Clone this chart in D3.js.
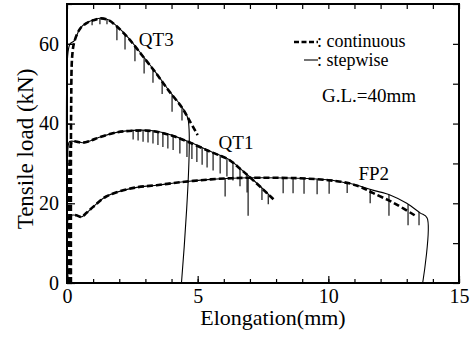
<!DOCTYPE html>
<html>
<head>
<meta charset="utf-8">
<script src="https://cdn.jsdelivr.net/npm/d3@7"></script>
<style>
  body { margin: 0; background: #fff; }
  svg text { font-family: "Liberation Serif", "Times New Roman", serif; fill: #000; }
</style>
</head>
<body>
<svg id="chart" width="475" height="338"></svg>
<script>
// [elongation mm, load kN]
const qt3Continuous = [[0.15,0],[0.16,45],[0.2,57],[0.28,60.5],[0.5,63.8],[0.75,65.2],[1.0,65.9],[1.3,66.4],[1.6,65.9],[1.9,64.4],[2.35,61.4],[2.9,56.9],[3.4,52.7],[3.9,48.2],[4.4,44.0],[4.7,40.6],[5.0,37.1]];
const qt3Stepwise = [[0.03,0],[0.04,58],[0.12,60],[0.28,60.8],[0.5,63.9],[0.75,65.3],[1.0,66.0],[1.3,66.5],[1.6,66.0],[1.9,64.5],[2.35,61.5],[2.9,57.0],[3.4,52.8],[3.9,48.3],[4.4,44.1],[4.63,41.2],[4.38,0]];
const qt1Continuous = [[0.12,0],[0.13,34],[0.2,35.5],[0.4,35.4],[0.6,35.2],[0.9,35.7],[1.3,36.7],[1.9,37.8],[2.5,38.2],[3.3,38.1],[4.0,37.0],[4.6,35.5],[5.5,32.9],[6.2,30.9],[6.6,28.8],[7.0,26.5],[7.5,23.5],[7.9,21.0]];
const qt1Stepwise = [[0.03,0],[0.04,34],[0.1,35.5],[0.4,35.4],[0.6,35.2],[0.9,35.7],[1.3,36.7],[1.9,37.8],[2.5,38.3],[3.3,38.2],[4.0,37.1],[4.6,35.6],[5.5,33.0],[6.2,31.0],[6.6,28.9],[7.0,26.6],[7.5,23.6],[7.85,21.3]];
const fp2Continuous = [[0.08,0],[0.09,16],[0.15,16.9],[0.35,17.0],[0.55,16.6],[0.75,17.6],[1.0,19.1],[1.5,21.7],[2.5,23.8],[3.5,24.6],[4.5,25.4],[5.5,26.0],[6.3,26.3],[7.0,26.4],[8.8,26.3],[10.0,25.8],[10.8,25.0],[11.3,23.9],[11.7,22.6],[12.5,20.1],[13.4,16.6]];
const fp2Stepwise = [[0.03,0],[0.04,16],[0.12,16.9],[0.35,17.0],[0.55,16.6],[0.75,17.6],[1.0,19.1],[1.5,21.7],[2.5,23.8],[3.5,24.6],[4.5,25.4],[5.5,26.0],[6.3,26.3],[7.0,26.4],[8.8,26.3],[10.0,25.9],[10.45,25.4],[11.08,24.6],[11.7,23.3],[12.36,22.1],[13.0,20.0],[13.51,17.6],[13.78,16.3],[13.61,0]];

// unloading drops on the stepwise curves: position (mm) and depth (kN)
const qt3SpikeX = [0.96,1.26,1.53,1.91,2.22,2.6,2.95,3.29,3.64,4.02,4.4];
const qt3SpikeDepth = [1.2,1.5,1.2,3.5,3.8,3.8,4.0,3.5,3.2,4.3,3.3];
const qt1SpikeX = [2.53,2.72,2.91,3.1,3.29,3.48,3.67,3.86,4.06,4.32,4.59,4.78,4.97,5.17,5.36,5.59,5.86,6.12,6.35,6.62,6.89,7.46,7.7];
const qt1SpikeDepth = [2.3,2.5,2.8,3.0,3.2,3.3,3.5,3.6,3.6,3.8,4.0,4.0,4.2,4.3,4.4,4.5,4.5,4.5,4.5,4.5,4.5,3.0,2.5];
const fp2SpikeX = [6.05,6.93,8.27,8.65,9.07,9.57,10.03,10.72,11.6,12.32,13.05,13.47];
const fp2SpikeDepth = [4.5,9.5,3.8,3.8,3.8,3.8,3.5,2.5,3.5,5.3,5.3,3.3];

const xTickLabels = [0, 5, 10, 15];
const yTickLabels = [0, 20, 40, 60];
const xMinorTicks = d3.range(0, 16);
const yMinorTicks = [0, 10, 20, 30, 40, 50, 60, 70];

const curveLabels = [
  { name: "QT3", x: 2.75, y: 59.5 },
  { name: "QT1", x: 5.8, y: 33.5 },
  { name: "FP2", x: 11.15, y: 25.8 }
];

const FONT = '"Liberation Serif", "Times New Roman", serif';

const svg = d3.select("#chart");
const x = d3.scaleLinear().domain([0, 15]).range([67, 459]);
const y = d3.scaleLinear().domain([0, 70]).range([283, 4]);

const line = d3.line()
  .x(d => x(d[0]))
  .y(d => y(d[1]))
  .curve(d3.curveCatmullRom.alpha(0.5));

// load on a stepwise curve at a given elongation (rising part only)
function loadAt(pts, xv) {
  for (let i = 1; i < pts.length; i++) {
    const a = pts[i - 1], b = pts[i];
    if (b[0] >= xv && a[0] <= xv && b[0] > a[0]) {
      const t = (xv - a[0]) / (b[0] - a[0]);
      return a[1] + t * (b[1] - a[1]);
    }
  }
  return pts[pts.length - 1][1];
}

// ticks (all pointing inward)
const axisStyle = g => {
  g.attr("font-family", FONT).attr("font-size", 20);
  g.select(".domain").remove();
  g.selectAll("line").attr("stroke", "#000").attr("stroke-width", 1.2);
  g.selectAll("text")
    .style("font-family", FONT)
    .style("font-size", "20px")
    .attr("fill", "#000");
};

svg.append("g").attr("transform", "translate(0,283)")
  .call(d3.axisBottom(x).tickValues(xMinorTicks).tickSize(-4).tickFormat(""))
  .call(axisStyle);
svg.append("g").attr("transform", "translate(0,283)")
  .call(d3.axisBottom(x).tickValues(xTickLabels).tickSize(-7).tickPadding(6).tickFormat(d3.format("d")))
  .call(axisStyle);
svg.append("g").attr("transform", "translate(0,4)")
  .call(d3.axisTop(x).tickValues(xMinorTicks).tickSize(-5).tickFormat(""))
  .call(axisStyle);
svg.append("g").attr("transform", "translate(67,0)")
  .call(d3.axisLeft(y).tickValues(yMinorTicks).tickSize(-5).tickFormat(""))
  .call(axisStyle);
svg.append("g").attr("transform", "translate(67,0)")
  .call(d3.axisLeft(y).tickValues(yTickLabels).tickSize(-8).tickPadding(8).tickFormat(d3.format("d")))
  .call(axisStyle);
svg.append("g").attr("transform", "translate(459,0)")
  .call(d3.axisRight(y).tickValues(yMinorTicks).tickSize(-6).tickFormat(""))
  .call(axisStyle);

// frame
svg.append("rect")
  .attr("x", x(0)).attr("y", y(70))
  .attr("width", x(15) - x(0)).attr("height", y(0) - y(70))
  .attr("fill", "none").attr("stroke", "#000").attr("stroke-width", 2);

// stepwise curves
const stepSeries = [
  { pts: qt3Stepwise, sx: qt3SpikeX, sd: qt3SpikeDepth },
  { pts: qt1Stepwise, sx: qt1SpikeX, sd: qt1SpikeDepth },
  { pts: fp2Stepwise, sx: fp2SpikeX, sd: fp2SpikeDepth }
];
stepSeries.forEach(s => {
  svg.append("path").datum(s.pts)
    .attr("d", line).attr("fill", "none")
    .attr("stroke", "#000").attr("stroke-width", 1.1);
  svg.append("g").selectAll("line")
    .data(s.sx.map((v, i) => [v, s.sd[i]]))
    .enter().append("line")
    .attr("x1", d => x(d[0])).attr("x2", d => x(d[0]))
    .attr("y1", d => y(loadAt(s.pts, d[0])))
    .attr("y2", d => y(loadAt(s.pts, d[0]) - d[1]))
    .attr("stroke", "#000").attr("stroke-width", 1.1);
});

// continuous curves
[qt3Continuous, qt1Continuous, fp2Continuous].forEach(pts => {
  svg.append("path").datum(pts)
    .attr("d", line).attr("fill", "none")
    .attr("stroke", "#000").attr("stroke-width", 2.6)
    .attr("stroke-dasharray", "6,3");
});

// curve names
svg.selectAll(".clabel").data(curveLabels).enter().append("text")
  .attr("class", "clabel")
  .attr("x", d => x(d.x)).attr("y", d => y(d.y))
  .style("font-family", FONT)
  .style("font-size", "19px")
  .text(d => d.name);

// legend
const lg = svg.append("g").style("font-family", FONT);
lg.append("line").attr("x1", 294).attr("x2", 318).attr("y1", 42).attr("y2", 42)
  .attr("stroke", "#000").attr("stroke-width", 2.6).attr("stroke-dasharray", "5,2.5");
lg.append("text").attr("x", 317).attr("y", 47).style("font-size", "18px").text(": continuous");
lg.append("line").attr("x1", 304).attr("x2", 318).attr("y1", 60).attr("y2", 60)
  .attr("stroke", "#000").attr("stroke-width", 1.1);
lg.append("text").attr("x", 317).attr("y", 66).style("font-size", "18px").text(": stepwise");
lg.append("text").attr("x", 322).attr("y", 102).style("font-size", "19px").text("G.L.=40mm");

// axis titles
svg.append("text")
  .attr("x", 273).attr("y", 325)
  .attr("text-anchor", "middle")
  .style("font-family", FONT)
  .style("font-size", "22px")
  .text("Elongation(mm)");
svg.append("text")
  .attr("transform", "translate(33,149) rotate(-90)")
  .attr("text-anchor", "middle")
  .style("font-family", FONT)
  .style("font-size", "23px")
  .text("Tensile load (kN)");
</script>
</body>
</html>
